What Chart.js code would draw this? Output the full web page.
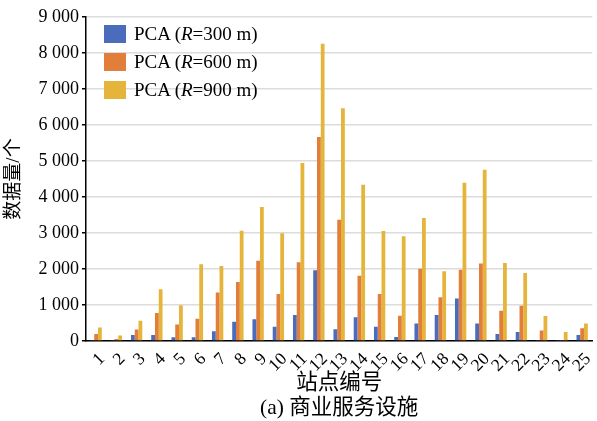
<!DOCTYPE html>
<html>
<head>
<meta charset="utf-8">
<script src="https://cdn.jsdelivr.net/npm/chart.js@4/dist/chart.umd.min.js"></script>
<style>
  body { margin: 0; background: #fff; }
  #wrap { position: relative; width: 597px; height: 421px; }
  #legenda { position: absolute; left: 104px; top: 20px; font: 19px "Liberation Serif", "Times New Roman", serif; color: #000; }
  .item { display: flex; align-items: center; height: 28px; white-space: nowrap; }
  .caixa { width: 22px; height: 18px; margin-right: 8px; }
</style>
</head>
<body>
<div id="wrap">
  <canvas id="grafico" width="597" height="421"></canvas>
  <div id="legenda"></div>
</div>
<script>
// Dados
const estacoes = ['1', '2', '3', '4', '5', '6', '7', '8', '9', '10', '11', '12', '13',
  '14', '15', '16', '17', '18', '19', '20', '21', '22', '23', '24', '25'];
const raios = [300, 600, 900];
const r300 = [28, 28, 168, 168, 103, 103, 271, 533, 602, 398, 722, 1963, 324,
  657, 398, 111, 486, 720, 1178, 486, 196, 252, 28, 28, 168];
const r600 = [196, 56, 318, 776, 458, 617, 1346, 1636, 2231, 1305, 2185, 5667, 3370,
  1815, 1305, 700, 2009, 1215, 1981, 2150, 841, 981, 290, 28, 355];
const r900 = [374, 150, 561, 1439, 991, 2131, 2084, 3065, 3722, 2991, 4944, 8259, 6463,
  4343, 3055, 2910, 3420, 1935, 4393, 4757, 2168, 1888, 692, 252, 486];
const ticksY = [0, 1000, 2000, 3000, 4000, 5000, 6000, 7000, 8000, 9000];

const cores = ['#4b6cbb', '#e07e3a', '#e5b43b'];
const fonte = '"Liberation Serif", "Times New Roman", "Noto Sans CJK SC", serif';

// "9 000" com espaco no milhar
function formatar(v) {
	if (v < 1000) return String(v);
	return Math.floor(v / 1000) + ' ' + String(v % 1000).padStart(3, '0');
}

// Legenda em HTML (o R fica em italico)
const legenda = document.getElementById('legenda');
raios.forEach(function (r, i) {
	const item = document.createElement('div');
	item.className = 'item';
	item.innerHTML = '<span class="caixa" style="background:' + cores[i] + '"></span>PCA (<i>R</i>=' + r + ' m)';
	legenda.appendChild(item);
});

let ctx = document.getElementById('grafico').getContext('2d');

let chart = new Chart(ctx, {
	type: 'bar',

	data: {
		labels: estacoes,
		datasets: [r300, r600, r900].map(function (serie, i) {
			return {
				label: 'PCA (R=' + raios[i] + ' m)',
				data: serie,
				backgroundColor: cores[i],
				barPercentage: 1,
				categoryPercentage: 0.56
			};
		})
	},

	options: {
		responsive: false,
		animation: false,
		layout: { padding: { top: 17, right: 0, left: 0, bottom: 0 } },
		plugins: {
			legend: { display: false },
			tooltip: { enabled: false }
		},
		scales: {
			x: {
				afterFit: function (s) { s.height = 80; },
				grid: { display: false },
				border: { color: '#000', width: 1.5 },
				ticks: {
					autoSkip: false,
					minRotation: 45,
					maxRotation: 45,
					labelOffset: 6,
					padding: 0,
					color: '#000',
					font: { family: fonte, size: 17.5 }
				},
				// titulo do eixo e legenda da figura, centrados na area do grafico
				title: {
					display: true,
					text: ['站点编号', '(a) 商业服务设施'],
					color: '#000',
					font: { family: fonte, size: 21.5, lineHeight: '25px' },
					padding: { top: 2, bottom: 0 }
				}
			},
			y: {
				min: 0,
				max: 9000,
				afterBuildTicks: function (s) { s.ticks = ticksY.map(v => ({ value: v })); },
				afterFit: function (s) { s.width = 86; },
				grid: { color: '#dcdcdc', lineWidth: 1.5, tickLength: 4, tickColor: '#000' },
				border: { color: '#000', width: 1.5 },
				ticks: {
					padding: 3,
					color: '#000',
					font: { family: fonte, size: 18 },
					callback: formatar
				},
				title: {
					display: true,
					text: '数据量/个',
					color: '#000',
					font: { family: fonte, size: 19, lineHeight: 1 },
					padding: { top: 4.5, bottom: 0 }
				}
			}
		}
	}
});
</script>
</body>
</html>
